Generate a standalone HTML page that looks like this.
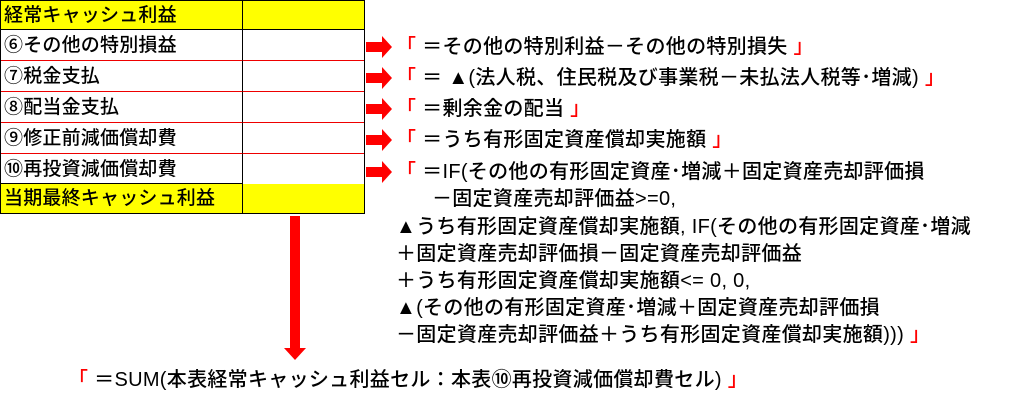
<!DOCTYPE html>
<html><head><meta charset="utf-8"><style>
body{margin:0;width:1010px;height:407px;background:#fff;position:relative;overflow:hidden;font-family:"Liberation Sans","Noto Sans CJK JP",sans-serif;}
.c{position:absolute;box-sizing:border-box;font-size:19px;letter-spacing:0.2px;line-height:31px;padding-left:3px;white-space:nowrap;color:#000;font-weight:500;}
.t{position:absolute;font-size:20px;letter-spacing:0.3px;white-space:nowrap;color:#000;line-height:27px;font-weight:500;}
.r{color:#f00;}
</style></head><body>
<div style="position:absolute;left:0;top:0;width:365px;height:214px;border:1px solid #000;box-sizing:border-box;"></div>
<div class="c" style="left:1px;top:1px;width:242px;height:29px;background:#ff0;border-right:1px solid #000;border-bottom:1px solid #000;line-height:29px;">経常キャッシュ利益</div>
<div class="c" style="left:243px;top:1px;width:121px;height:29px;background:#ff0;border-bottom:1px solid #000;"></div>
<div class="c" style="left:1px;top:30px;width:242px;height:31px;border-right:1px solid #000;border-bottom:1px solid #e00;">⑥その他の特別損益</div>
<div class="c" style="left:1px;top:61px;width:242px;height:31px;border-right:1px solid #000;border-bottom:1px solid #e00;">⑦税金支払</div>
<div class="c" style="left:1px;top:92px;width:242px;height:31px;border-right:1px solid #000;border-bottom:1px solid #e00;">⑧配当金支払</div>
<div class="c" style="left:1px;top:123px;width:242px;height:31px;border-right:1px solid #000;border-bottom:1px solid #e00;">⑨修正前減価償却費</div>
<div class="c" style="left:1px;top:154px;width:242px;height:30px;border-right:1px solid #000;border-bottom:1px solid #000;">⑩再投資減価償却費</div>
<div style="position:absolute;left:243px;top:30px;width:121px;height:154px;">
<div style="height:30px;border-bottom:1px solid #e00"></div><div style="height:30px;border-bottom:1px solid #e00"></div><div style="height:30px;border-bottom:1px solid #e00"></div><div style="height:30px;border-bottom:1px solid #e00"></div></div>
<div class="c" style="left:1px;top:184px;width:242px;height:29px;background:#ff0;border-right:1px solid #000;line-height:29px;">当期最終キャッシュ利益</div>
<div class="c" style="left:243px;top:184px;width:121px;height:29px;background:#ff0;"></div>

<svg style="position:absolute;left:0;top:0" width="1010" height="407">
<g fill="#f00">
<polygon points="366,42 382,42 382,36 392,47 382,58 382,52 366,52"/>
<polygon points="366,73 382,73 382,67 392,78 382,89 382,83 366,83"/>
<polygon points="366,104 382,104 382,98 392,109 382,120 382,114 366,114"/>
<polygon points="366,135 382,135 382,129 392,140 382,151 382,145 366,145"/>
<polygon points="366,167 382,167 382,161 392,172 382,183 382,177 366,177"/>
<polygon points="290,216 300,216 300,348 306,348 295,360 284,348 290,348"/>
</g></svg>

<div class="t" style="left:396px;top:34px"><span class="r">「</span> ＝その他の特別利益－その他の特別損失 <span class="r">」</span></div>
<div class="t" style="left:396px;top:65px"><span class="r">「</span> ＝ ▲(法人税、住民税及び事業税－未払法人税等･増減) <span class="r">」</span></div>
<div class="t" style="left:396px;top:96px"><span class="r">「</span> ＝剰余金の配当 <span class="r">」</span></div>
<div class="t" style="left:396px;top:127px"><span class="r">「</span> ＝うち有形固定資産償却実施額 <span class="r">」</span></div>
<div class="t" style="left:396px;top:159px"><span class="r">「</span> ＝IF(その他の有形固定資産･増減＋固定資産売却評価損</div>
<div class="t" style="left:432px;top:186px">－固定資産売却評価益&gt;=0,</div>
<div class="t" style="left:396px;top:214px">▲うち有形固定資産償却実施額, IF(その他の有形固定資産･増減</div>
<div class="t" style="left:396px;top:241px">＋固定資産売却評価損－固定資産売却評価益</div>
<div class="t" style="left:396px;top:268px">＋うち有形固定資産償却実施額&lt;= 0, 0,</div>
<div class="t" style="left:396px;top:295px">▲(その他の有形固定資産･増減＋固定資産売却評価損</div>
<div class="t" style="left:396px;top:322px">－固定資産売却評価益＋うち有形固定資産償却実施額))) <span class="r">」</span></div>
<div class="t" style="left:68px;top:367px"><span class="r">「</span> ＝SUM(本表経常キャッシュ利益セル：本表⑩再投資減価償却費セル) <span class="r">」</span></div>
</body></html>
